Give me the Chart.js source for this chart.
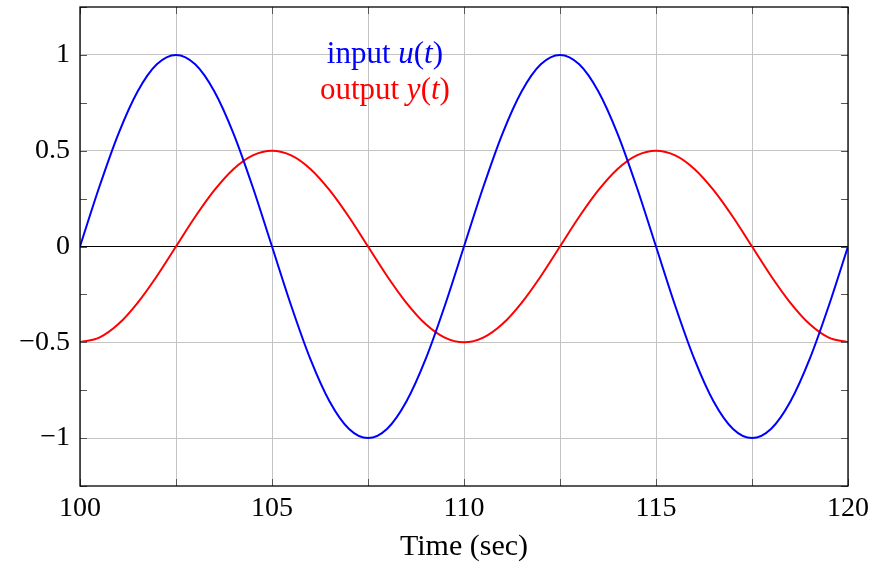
<!DOCTYPE html>
<html>
<head>
<meta charset="utf-8">
<script src="https://cdn.jsdelivr.net/npm/chart.js@4.4.1/dist/chart.umd.min.js"></script>
<style>
  html, body { margin: 0; padding: 0; background: #fff; }
  #plot { display: block; }
</style>
</head>
<body>
<canvas id="plot" width="873" height="565"></canvas>
<script>
// time axis (sec)
const timeSec = [
    100, 100.5, 101, 101.5, 102, 102.5, 103, 103.5, 104, 104.5,
    105, 105.5, 106, 106.5, 107, 107.5, 108, 108.5, 109, 109.5,
    110, 110.5, 111, 111.5, 112, 112.5, 113, 113.5, 114, 114.5,
    115, 115.5, 116, 116.5, 117, 117.5, 118, 118.5, 119, 119.5, 120
];
// input u(t)
const inputU = [
    0, 0.309, 0.588, 0.809, 0.951, 1, 0.951, 0.809, 0.588, 0.309,
    0, -0.309, -0.588, -0.809, -0.951, -1, -0.951, -0.809, -0.588, -0.309,
    0, 0.309, 0.588, 0.809, 0.951, 1, 0.951, 0.809, 0.588, 0.309,
    0, -0.309, -0.588, -0.809, -0.951, -1, -0.951, -0.809, -0.588, -0.309, 0
];
// output y(t)
const outputY = [
    -0.5, -0.476, -0.405, -0.294, -0.155, 0, 0.155, 0.294, 0.405, 0.476,
    0.5, 0.476, 0.405, 0.294, 0.155, 0, -0.155, -0.294, -0.405, -0.476,
    -0.5, -0.476, -0.405, -0.294, -0.155, 0, 0.155, 0.294, 0.405, 0.476,
    0.5, 0.476, 0.405, 0.294, 0.155, 0, -0.155, -0.294, -0.405, -0.476, -0.5
];
const xLabelTicks = [100, 105, 110, 115, 120];
const yLabelTicks = [-1, -0.5, 0, 0.5, 1];

const SERIF = "'Liberation Serif', 'DejaVu Serif', serif";
const BLUE = '#0000ff';
const RED = '#ff0000';
const GRID = '#c4c4c4';
const TICK = '#555555';

const isLabelled = (list, v) => list.some(t => Math.abs(t - v) < 1e-6);

// pgfplots-like frame, inner ticks and the text legend
const framePlugin = {
    id: 'frame',
    afterDatasetsDraw(chart) {
        const { ctx, chartArea: a, scales } = chart;
        const tl = 7;
        ctx.save();
        ctx.lineWidth = 1;
        ctx.strokeStyle = TICK;
        ctx.beginPath();
        scales.x.ticks.forEach(t => {
            const px = Math.round(scales.x.getPixelForValue(t.value)) + 0.5;
            ctx.moveTo(px, a.bottom); ctx.lineTo(px, a.bottom - tl);
            ctx.moveTo(px, a.top); ctx.lineTo(px, a.top + tl);
        });
        scales.y.ticks.forEach(t => {
            const py = Math.round(scales.y.getPixelForValue(t.value)) + 0.5;
            ctx.moveTo(a.left, py); ctx.lineTo(a.left + tl, py);
            ctx.moveTo(a.right, py); ctx.lineTo(a.right - tl, py);
        });
        ctx.stroke();

        ctx.strokeStyle = '#000';
        ctx.lineWidth = 1.3;
        ctx.strokeRect(a.left, a.top, a.right - a.left, a.bottom - a.top);

        // legend text
        const cx = scales.x.getPixelForValue(107.94);
        drawMixed(ctx, [['input ', false], ['u', true], ['(', false], ['t', true], [')', false]], cx, scales.y.getPixelForValue(0.96), BLUE);
        drawMixed(ctx, [['output ', false], ['y', true], ['(', false], ['t', true], [')', false]], cx, scales.y.getPixelForValue(0.77), RED);
        ctx.restore();
    }
};

function drawMixed(ctx, parts, cx, baseline, color) {
    const fontFor = it => (it ? 'italic ' : '') + '31px ' + SERIF;
    let total = 0;
    parts.forEach(([s, it]) => { ctx.font = fontFor(it); total += ctx.measureText(s).width; });
    let x = cx - total / 2;
    ctx.fillStyle = color;
    ctx.textBaseline = 'alphabetic';
    ctx.textAlign = 'left';
    parts.forEach(([s, it]) => {
        ctx.font = fontFor(it);
        ctx.fillText(s, x, baseline);
        x += ctx.measureText(s).width;
    });
}

new Chart(document.getElementById('plot'), {
    type: 'line',
    data: {
        datasets: [
            {
                label: 'input u(t)',
                data: timeSec.map((t, i) => ({ x: t, y: inputU[i] })),
                borderColor: BLUE,
                borderWidth: 2,
                pointRadius: 0,
                cubicInterpolationMode: 'monotone'
            },
            {
                label: 'output y(t)',
                data: timeSec.map((t, i) => ({ x: t, y: outputY[i] })),
                borderColor: RED,
                borderWidth: 2,
                pointRadius: 0,
                cubicInterpolationMode: 'monotone'
            }
        ]
    },
    options: {
        responsive: false,
        animation: false,
        layout: { padding: { top: 7, right: 25, left: 0, bottom: 0 } },
        plugins: { legend: { display: false }, tooltip: { enabled: false } },
        scales: {
            x: {
                type: 'linear',
                min: 100, max: 120,
                afterFit: s => { s.height = 79; s.paddingLeft = 0; s.paddingRight = 0; },
                border: { display: false },
                grid: { color: GRID, drawTicks: false, lineWidth: 1 },
                ticks: {
                    stepSize: 2.5,
                    padding: 6,
                    color: '#000',
                    font: { family: SERIF, size: 28 },
                    maxRotation: 0,
                    autoSkip: false,
                    callback: v => isLabelled(xLabelTicks, v) ? String(v) : ''
                },
                title: {
                    display: true,
                    text: 'Time (sec)',
                    color: '#000',
                    font: { family: SERIF, size: 30 },
                    padding: { top: 0, bottom: 0 }
                }
            },
            y: {
                min: -1.25, max: 1.25,
                afterFit: s => { s.width = 80; s.paddingTop = 0; s.paddingBottom = 0; },
                border: { display: false },
                grid: {
                    drawTicks: false,
                    color: c => {
                        const v = c.tick.value;
                        if (Math.abs(v) < 1e-6) return '#000';
                        return isLabelled(yLabelTicks, v) ? GRID : 'rgba(0,0,0,0)';
                    }
                },
                ticks: {
                    stepSize: 0.25,
                    padding: 10,
                    color: '#000',
                    font: { family: SERIF, size: 28 },
                    autoSkip: false,
                    callback: v => isLabelled(yLabelTicks, v) ? String(v).replace('-', '\u2212') : ''
                }
            }
        }
    },
    plugins: [framePlugin]
});
</script>
</body>
</html>
